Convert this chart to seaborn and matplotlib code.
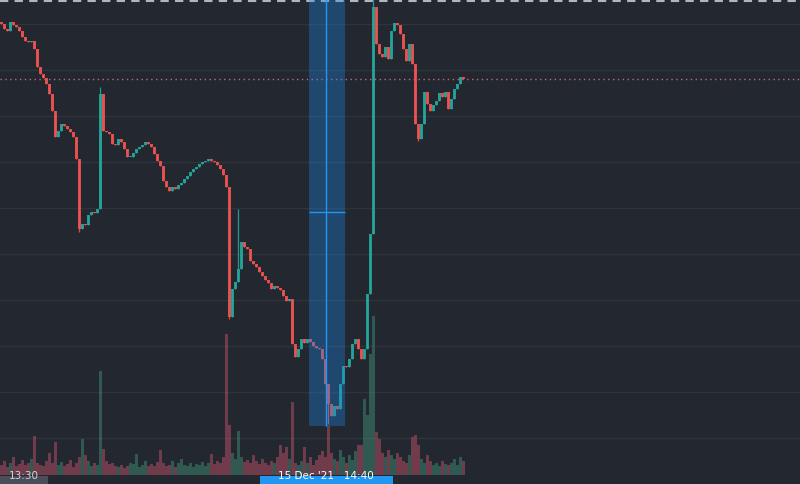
import matplotlib
matplotlib.use('Agg')
import matplotlib.pyplot as plt
from matplotlib.patches import Rectangle
import numpy as np
import pandas as pd
import seaborn as sns

# close prices per candle (arbitrary price units)
closes = [460, 455, 453, 462, 459, 457, 453, 447, 443, 442,
          443, 435, 417, 410, 406, 400, 390, 373, 347, 353,
          360, 358, 355, 352, 347, 325, 255, 260, 259, 269,
          272, 271, 275, 390, 353, 352, 350, 340, 339, 345,
          342, 335, 327, 327, 331, 335, 337, 339, 342, 340,
          337, 330, 323, 318, 303, 297, 293, 297, 295, 299,
          301, 305, 308, 312, 315, 317, 320, 322, 323, 325,
          323, 322, 319, 315, 309, 297, 167, 195, 202, 215,
          242, 237, 235, 223, 220, 217, 212, 208, 204, 201,
          195, 198, 196, 194, 188, 183, 185, 140, 127, 135,
          145, 141, 145, 142, 138, 136, 135, 125, 100, 80,
          68, 78, 75, 100, 118, 117, 125, 140, 145, 135,
          125, 135, 190, 250, 477, 440, 430, 427, 437, 425,
          453, 461, 459, 450, 435, 423, 440, 420, 360, 345,
          360, 392, 380, 373, 379, 383, 391, 387, 392, 375,
          385, 395, 400, 407, 405]
first_open = 462

# long wicks that stick out of the bodies
wick_high = {33: 397, 79: 275, 124: 485}
wick_low = {26: 252, 76: 165, 109: 60, 139: 343}

volumes = [10, 14, 8, 12, 18, 9, 11, 15, 10, 12,
           16, 39, 12, 10, 9, 14, 22, 12, 33, 10,
           13, 9, 11, 15, 8, 12, 18, 36, 20, 14,
           9, 12, 10, 104, 26, 14, 11, 12, 9, 8,
           10, 7, 9, 12, 11, 21, 8, 10, 14, 9,
           11, 9, 13, 25, 12, 9, 10, 14, 8, 12,
           16, 10, 9, 12, 8, 11, 10, 13, 9, 12,
           21, 11, 14, 12, 18, 141, 50, 22, 16, 44,
           18, 13, 15, 12, 20, 14, 11, 16, 12, 10,
           14, 12, 18, 30, 22, 28, 16, 73, 12, 10,
           14, 28, 12, 18, 10, 15, 20, 24, 18, 49,
           22, 16, 14, 25, 18, 12, 20, 15, 24, 30,
           30, 76, 60, 121, 159, 43, 36, 22, 18, 25,
           20, 16, 22, 18, 14, 12, 20, 38, 40, 30,
           16, 12, 20, 14, 10, 12, 9, 14, 11, 10,
           12, 16, 10, 18, 14]

grid_price = [46, 92, 138, 184, 230, 276, 322, 368, 414, 460]
grid_idx = [22.2, 57.5, 95.5, 128.5, 153.5]
highlight = (102.5, 114.5)
cursor_idx = 108.2
cursor_price = 272
time_labels = ['13:30', "15 Dec '21   14:40"]

BG = '#222730'
UP = '#26a69a'
DOWN = '#ef5350'

sns.set_theme(style='dark', rc={'axes.facecolor': BG, 'figure.facecolor': BG})

n = len(closes)
idx = np.arange(n)
opens = [first_open] + closes[:-1]
df = pd.DataFrame({'idx': idx, 'open': opens, 'close': closes, 'vol': volumes})
df['top'] = df[['open', 'close']].max(axis=1)
df['bot'] = df[['open', 'close']].min(axis=1)
df['high'] = df['top']
df['low'] = df['bot']
for k, v in wick_high.items():
    df.loc[k, 'high'] = v
for k, v in wick_low.items():
    df.loc[k, 'low'] = v
df['dir'] = np.where(df['close'] >= df['open'], 'up', 'down')

fig = plt.figure(figsize=(8, 4.85), dpi=100)
ax = fig.add_axes([0, 0, 1, 1])
ax.set_facecolor(BG)

# volume on a twin axis underneath the price
axv = ax.twinx()
sns.barplot(data=df, x='idx', y='vol', hue='dir', palette={'up': '#2e9a78', 'down': '#d0405e'},
            native_scale=True, dodge=False, errorbar=None, legend=False,
            width=0.75, alpha=0.5, linewidth=0, ax=axv)
axv.set_ylim(-9, 476)

# candles
colors = df['dir'].map({'up': UP, 'down': DOWN})
ax.vlines(df['idx'], df['low'], df['high'], colors=colors, lw=0.9, alpha=0.9, zorder=3)
body = (df['top'] - df['bot']).clip(lower=1)
ax.bar(df['idx'], body, bottom=df['bot'], width=0.8, color=colors, alpha=0.9,
       linewidth=0, zorder=3)

# highlight band + crosshair
band_low = df.loc[(df['idx'] > highlight[0]) & (df['idx'] < highlight[1]), 'low'].min() - 2
ax.fill_between(highlight, band_low, 485, color='#1e88e5', alpha=0.35, lw=0, zorder=4)
ax.vlines(cursor_idx, band_low, 485, color='#2196f3', lw=1, zorder=5)
ax.hlines(cursor_price, highlight[0], highlight[1], color='#2196f3', lw=1, zorder=5)

# last price line and top dashed border
ax.axhline(closes[-1], color='#f07a80', lw=1, ls=(0, (1, 2.5)), alpha=0.8, zorder=2)
ax.axhline(483.5, color='#b2b5be', lw=1.5, ls=(0, (4, 3)), zorder=2)

ax.set_xlim(-0.5, 266.17)
axv.set_xlim(-0.5, 266.17)
ax.set_ylim(0, 485)
ax.set_xticks(grid_idx)
ax.set_yticks(grid_price)
ax.grid(True, color='#2e333c', lw=1)
ax.tick_params(length=0, labelbottom=False, labelleft=False)
axv.set_yticks([])
axv.set_xticks([])
axv.set_xlabel('')
axv.set_ylabel('')
for a in (ax, axv):
    for s in a.spines.values():
        s.set_visible(False)

# time axis labels in boxes along the bottom edge (cut off like the screenshot)
fig.patches.append(Rectangle((0, 0), 48 / 800, 8 / 485, transform=fig.transFigure,
                             fc='#4a4e58', ec='none', zorder=10))
fig.patches.append(Rectangle((260 / 800, 0), 133 / 800, 8 / 485, transform=fig.transFigure,
                             fc='#2196f3', ec='none', zorder=10))
fig.text(24 / 800, 4 / 485, time_labels[0], color='#d1d4dc', fontsize=7.5, ha='center',
         va='bottom', zorder=11)
fig.text(326 / 800, 4 / 485, time_labels[1], color='white', fontsize=7.5, ha='center',
         va='bottom', zorder=11)

fig.savefig('out.png', dpi=100, facecolor=BG)
